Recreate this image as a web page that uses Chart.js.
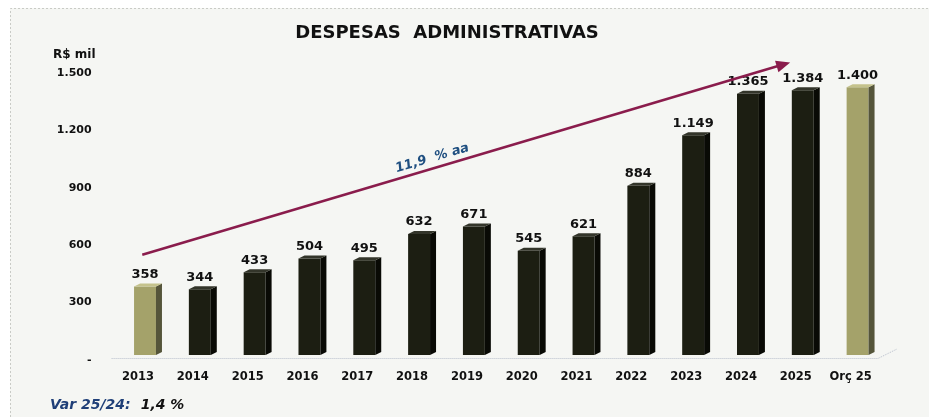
<!DOCTYPE html>
<html>
<head>
<meta charset="utf-8">
<script src="https://cdn.jsdelivr.net/npm/chart.js@4.4.1/dist/chart.umd.min.js"></script>
<style>
  html, body { margin: 0; padding: 0; background: #fff; }
  #wrap { width: 929px; height: 417px; }
</style>
</head>
<body>
<div id="wrap"><canvas id="despesasChart" width="929" height="417"></canvas></div>
<script>
// dados do grafico
const categories = ["2013", "2014", "2015", "2016", "2017", "2018", "2019", "2020", "2021", "2022", "2023", "2024", "2025", "Orç 25"];
const despesas = [358, 344, 433, 504, 495, 632, 671, 545, 621, 884, 1149, 1365, 1384, 1400];
const destaque = [true, false, false, false, false, false, false, false, false, false, false, false, false, true];
const yTicks = [0, 300, 600, 900, 1200, 1500];
const titulo = "DESPESAS  ADMINISTRATIVAS";
const unidade = "R$ mil";
const crescimento = "11,9  % aa";
const varLabel = "Var 25/24:";
const varValor = "1,4 %";
// seta de tendencia: [indice da categoria, valor]
const arrowFrom = [-0.05, 524];
const arrowTo = [11.77, 1529];

const darkBar = "#1c1e12";
const oliveBar = "#a4a26a";

function fmt(v){
  if (v === 0) return "-";
  return String(v).replace(/\B(?=(\d{3})+(?!\d))/g, ".");
}

const barColors = destaque.map(d => d ? oliveBar : darkBar);

const decoPlugin = {
  id: "deco",
  beforeDraw(chart){
    const ctx = chart.ctx;
    ctx.save();
    ctx.fillStyle = "#ffffff";
    ctx.fillRect(0, 0, chart.width, chart.height);
    ctx.fillStyle = "#f5f6f3";
    ctx.fillRect(10, 8, chart.width - 10, chart.height - 8);
    ctx.strokeStyle = "#c9cbc6";
    ctx.lineWidth = 1;
    ctx.setLineDash([2, 2]);
    ctx.beginPath();
    ctx.moveTo(10.5, chart.height);
    ctx.lineTo(10.5, 8.5);
    ctx.lineTo(chart.width, 8.5);
    ctx.stroke();
    ctx.setLineDash([]);

    // linha do piso
    const a = chart.chartArea;
    ctx.strokeStyle = "#b8bfcc";
    ctx.setLineDash([1, 1]);
    ctx.beginPath();
    ctx.moveTo(a.left - 6, a.bottom + 3.5);
    ctx.lineTo(a.right - 7, a.bottom + 3.5);
    ctx.lineTo(a.right + 12, a.bottom - 6);
    ctx.stroke();
    ctx.restore();
  },
  afterDatasetsDraw(chart){
    const ctx = chart.ctx;
    const meta = chart.getDatasetMeta(0);
    const dx = 6, dy = 3;
    ctx.save();
    meta.data.forEach((bar, i) => {
      const p = bar.getProps(["x", "y", "base", "width"], true);
      const l = p.x - p.width / 2, r = p.x + p.width / 2;
      // lado
      ctx.fillStyle = destaque[i] ? "#55553a" : "#090a05";
      ctx.beginPath();
      ctx.moveTo(r, p.y);
      ctx.lineTo(r + dx, p.y - dy);
      ctx.lineTo(r + dx, p.base - dy);
      ctx.lineTo(r, p.base);
      ctx.closePath();
      ctx.fill();
      // topo
      ctx.fillStyle = destaque[i] ? "#c4c28c" : "#33352a";
      ctx.beginPath();
      ctx.moveTo(l, p.y);
      ctx.lineTo(l + dx, p.y - dy);
      ctx.lineTo(r + dx, p.y - dy);
      ctx.lineTo(r, p.y);
      ctx.closePath();
      ctx.fill();
      // valor
      ctx.fillStyle = "#111111";
      ctx.font = "bold 13px 'DejaVu Sans'";
      ctx.textAlign = "center";
      ctx.textBaseline = "middle";
      ctx.fillText(fmt(despesas[i]), p.x, p.y - 12);
    });

    // seta
    const xs = chart.scales.x, ys = chart.scales.y;
    const pxAt = idx => xs.getPixelForValue(0) + idx * (xs.getPixelForValue(1) - xs.getPixelForValue(0));
    const x1 = pxAt(arrowFrom[0]), y1 = ys.getPixelForValue(arrowFrom[1]);
    const x2 = pxAt(arrowTo[0]), y2 = ys.getPixelForValue(arrowTo[1]);
    const ang = Math.atan2(y2 - y1, x2 - x1);
    ctx.strokeStyle = "#8a1c4c";
    ctx.fillStyle = "#8a1c4c";
    ctx.lineWidth = 2.5;
    ctx.beginPath();
    ctx.moveTo(x1, y1);
    ctx.lineTo(x2 - 10 * Math.cos(ang), y2 - 10 * Math.sin(ang));
    ctx.stroke();
    ctx.beginPath();
    ctx.moveTo(x2, y2);
    ctx.lineTo(x2 - 14 * Math.cos(ang) + 6 * Math.sin(ang), y2 - 14 * Math.sin(ang) - 6 * Math.cos(ang));
    ctx.lineTo(x2 - 14 * Math.cos(ang) - 6 * Math.sin(ang), y2 - 14 * Math.sin(ang) + 6 * Math.cos(ang));
    ctx.closePath();
    ctx.fill();

    // rotulo da seta
    const t = 0.452;
    const mx = x1 + (x2 - x1) * t, my = y1 + (y2 - y1) * t;
    ctx.translate(mx + 10 * Math.sin(ang), my - 10 * Math.cos(ang));
    ctx.rotate(ang);
    ctx.fillStyle = "#1f4f80";
    ctx.font = "italic bold 13px 'DejaVu Sans'";
    ctx.textAlign = "center";
    ctx.textBaseline = "middle";
    ctx.fillText(crescimento, 0, 0);
    ctx.restore();

    // textos
    ctx.save();
    ctx.fillStyle = "#111111";
    ctx.font = "bold 18px 'DejaVu Sans'";
    ctx.textAlign = "center";
    ctx.textBaseline = "middle";
    ctx.fillText(titulo, 447, 33);
    ctx.font = "bold 12px 'DejaVu Sans'";
    ctx.textAlign = "left";
    ctx.fillText(unidade, 53, 55);
    ctx.font = "italic bold 14px 'DejaVu Sans'";
    ctx.fillStyle = "#1f3f78";
    ctx.fillText(varLabel, 50, 405);
    const w = ctx.measureText(varLabel).width;
    ctx.fillStyle = "#111111";
    ctx.fillText(varValor, 50 + w + 10, 405);
    ctx.restore();
  }
};

new Chart("despesasChart", {
  type: "bar",
  data: {
    labels: categories,
    datasets: [{
      data: despesas,
      backgroundColor: barColors,
      borderWidth: 0,
      barPercentage: 0.4,
      categoryPercentage: 1
    }]
  },
  options: {
    responsive: false,
    animation: false,
    layout: { padding: { top: 68, right: 44, bottom: 0, left: 0 } },
    plugins: {
      legend: { display: false },
      tooltip: { enabled: false }
    },
    scales: {
      x: {
        grid: { display: false, drawTicks: false },
        border: { display: false },
        ticks: {
          color: "#111111",
          font: { family: "DejaVu Sans", weight: "bold", size: 11.5 },
          padding: 15,
          labelOffset: -7,
          maxRotation: 0
        },
        afterFit(scale){ scale.height = 62; }
      },
      y: {
        min: 0,
        max: 1500,
        grid: { display: false, drawTicks: false },
        border: { display: false },
        afterBuildTicks(scale){ scale.ticks = yTicks.map(v => ({ value: v })); },
        ticks: {
          color: "#111111",
          font: { family: "DejaVu Sans", weight: "bold", size: 11 },
          padding: 26,
          labelOffset: 5,
          callback: v => fmt(v)
        },
        afterFit(scale){ scale.width = 117.6; }
      }
    }
  },
  plugins: [decoPlugin]
});
</script>
</body>
</html>
